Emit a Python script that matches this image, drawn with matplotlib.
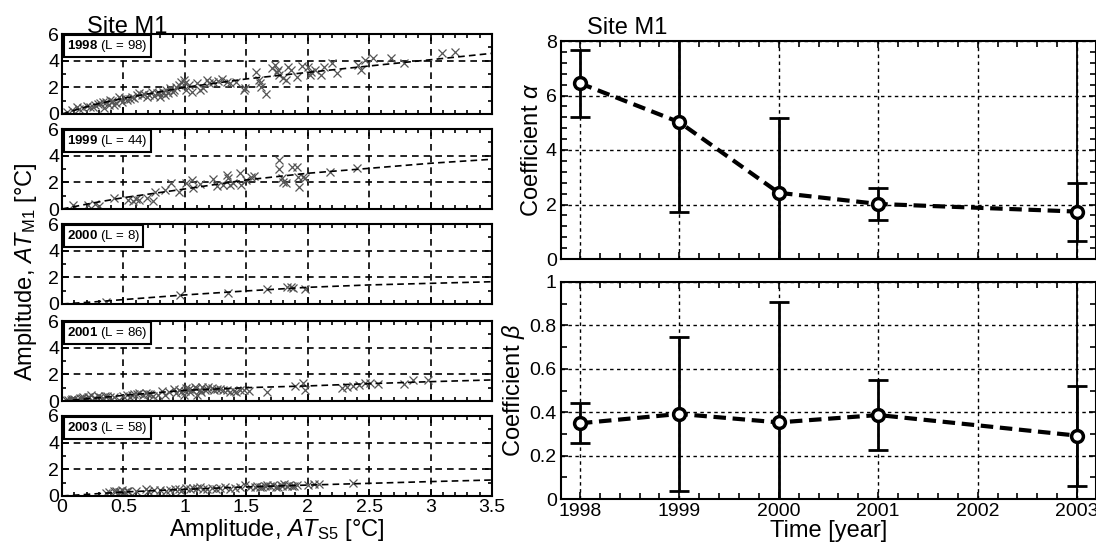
import matplotlib
matplotlib.use("Agg")
import matplotlib.pyplot as plt
import numpy as np
from matplotlib.ticker import MultipleLocator

plt.rcParams["font.family"] = ["Liberation Sans", "DejaVu Sans"]
plt.rcParams["mathtext.fontset"] = "custom"
plt.rcParams["mathtext.rm"] = "Liberation Sans"
plt.rcParams["mathtext.it"] = "Liberation Sans:italic"
plt.rcParams["mathtext.bf"] = "Liberation Sans:bold"

# ---- left: amplitude scatter per year ----
panel_years = ["1998", "1999", "2000", "2001", "2003"]
panel_counts = [98, 44, 8, 86, 58]

x1998 = [0.04, 0.12, 0.17, 0.23, 0.27, 0.31, 0.34, 0.36, 0.39, 0.42, 0.46, 0.49, 0.53, 0.57,
         0.61, 0.65, 0.69, 0.73, 0.77, 0.80, 0.82, 0.84, 0.85, 0.88, 0.91, 0.93, 0.97, 0.99,
         1.01, 1.06, 1.10, 1.12, 1.15, 1.18, 1.20, 1.23, 1.34, 1.37, 1.48, 1.49,
         1.58, 1.60, 1.61, 1.71, 1.73, 1.75, 1.76, 1.77, 1.80, 1.82, 1.84, 1.91, 2.00, 2.02,
         2.03, 2.11, 2.13, 2.20, 2.24, 2.41, 2.43, 2.47, 2.53, 2.68, 2.78, 3.09, 3.20,
         0.08, 0.14, 0.20, 0.25, 0.29, 0.33, 0.38, 0.41, 0.44, 0.48, 0.51, 0.55, 0.59, 0.63,
         0.67, 0.71, 0.75, 0.79, 0.86, 0.90, 0.95, 1.00, 1.03, 1.27, 1.30, 1.42, 1.62, 1.66,
         1.86, 1.95, 2.06]
y1998 = [0.17, 0.55, 0.43, 0.55, 0.68, 0.80, 0.43, 0.92, 1.05, 0.68, 1.30, 0.92, 1.05, 1.30,
         1.43, 1.43, 1.30, 1.67, 1.55, 1.30, 1.67, 1.43, 1.80, 1.93, 1.80, 2.05, 2.42, 2.55,
         1.80, 1.67, 2.30, 1.80, 1.93, 2.55, 2.30, 2.42, 2.42, 2.30, 1.80, 1.93,
         3.17, 2.55, 2.30, 3.43, 3.68, 3.17, 3.30, 2.93, 2.68, 2.55, 3.55, 2.80, 3.55, 2.93,
         3.17, 2.93, 3.55, 3.80, 3.05, 3.68, 3.30, 4.05, 4.18, 4.18, 3.80, 4.55, 4.68,
         0.30, 0.40, 0.60, 0.50, 0.75, 0.90, 0.70, 0.95, 0.85, 1.15, 1.20, 1.10, 1.20, 1.55,
         1.50, 1.40, 1.35, 1.60, 1.55, 1.65, 2.20, 2.35, 2.20, 2.50, 2.60, 2.40, 2.00, 1.50,
         3.30, 3.60, 3.30]

x1999 = [0.09, 0.21, 0.27, 0.30, 0.42, 0.54, 0.58, 0.63, 0.69, 0.74, 0.76, 0.84, 0.89, 0.95,
         1.01, 1.06, 1.07, 1.23, 1.26, 1.31, 1.34, 1.35, 1.37, 1.39, 1.45, 1.46, 1.50, 1.56,
         1.54, 1.77, 1.77, 1.79, 1.80, 1.82, 1.87, 1.91, 1.92, 1.93, 1.96, 1.98, 2.18, 2.40,
         0.60, 1.12]
y1999 = [0.30, 0.30, 0.38, 0.23, 0.80, 0.68, 0.63, 0.68, 0.80, 0.63, 1.30, 1.43, 1.93, 1.30,
         1.93, 2.18, 1.55, 2.23, 1.73, 1.80, 2.55, 2.30, 1.80, 1.93, 2.68, 1.80, 2.18, 2.48,
         2.43, 3.68, 2.98, 2.30, 2.05, 1.93, 3.18, 3.18, 2.43, 1.63, 2.43, 2.30, 2.80, 3.10,
         0.75, 1.90]

x2000 = [0.36, 0.96, 1.35, 1.67, 1.83, 1.86, 1.88, 1.98]
y2000 = [0.17, 0.68, 0.85, 1.10, 1.25, 1.30, 1.18, 1.10]

x2001 = [0.05, 0.08, 0.11, 0.15, 0.17, 0.19, 0.21, 0.24, 0.27, 0.31, 0.35, 0.39, 0.46, 0.53,
         0.55, 0.59, 0.63, 0.66, 0.70, 0.74, 0.78, 0.81, 0.84, 0.91, 0.93, 0.97, 0.99, 1.01,
         1.04, 1.08, 1.10, 1.12, 1.14, 1.16, 1.19, 1.22, 1.26, 1.31, 1.37, 1.42, 1.48, 1.67,
         1.90, 1.96, 1.98, 2.28, 2.32, 2.37, 2.42, 2.47, 2.51, 2.57, 2.78, 2.86, 2.98,
         0.03, 0.07, 0.10, 0.13, 0.16, 0.20, 0.22, 0.26, 0.29, 0.33, 0.37, 0.42, 0.50, 0.57,
         0.61, 0.68, 0.72, 0.87, 0.95, 1.00, 1.03, 1.06, 1.09, 1.13, 1.18, 1.24, 1.29, 1.34,
         1.40, 1.45, 1.52]
y2001 = [0.08, 0.13, 0.03, 0.20, 0.28, 0.08, 0.33, 0.45, 0.20, 0.33, 0.38, 0.28, 0.08, 0.45,
         0.33, 0.50, 0.58, 0.45, 0.53, 0.38, 0.45, 0.75, 0.45, 0.88, 0.58, 0.70, 0.45, 0.95,
         0.70, 1.08, 0.45, 0.83, 1.08, 0.83, 1.08, 0.95, 0.88, 0.83, 0.70, 0.70, 0.83, 0.70,
         1.13, 1.33, 0.83, 0.95, 1.08, 1.13, 1.20, 1.33, 1.33, 1.28, 1.28, 1.58, 1.58,
         0.10, 0.05, 0.15, 0.10, 0.25, 0.15, 0.30, 0.25, 0.35, 0.20, 0.40, 0.30, 0.40, 0.45,
         0.55, 0.60, 0.50, 0.70, 0.85, 0.75, 0.90, 0.80, 0.95, 0.70, 0.90, 0.85, 0.90, 0.80,
         0.75, 0.80, 0.75]

x2003 = [0.36, 0.42, 0.46, 0.49, 0.51, 0.54, 0.68, 0.70, 0.80, 0.85, 0.95, 0.97, 1.01, 1.10,
         1.12, 1.18, 1.29, 1.33, 1.37, 1.49, 1.57, 1.61, 1.65, 1.69, 1.72, 1.76, 1.81, 1.83,
         1.87, 1.91, 2.00, 2.09, 2.37,
         0.38, 0.44, 0.47, 0.53, 0.60, 0.75, 0.88, 0.92, 1.04, 1.07, 1.15, 1.22, 1.25, 1.41,
         1.45, 1.53, 1.59, 1.63, 1.67, 1.74, 1.78, 1.79, 1.85, 1.89, 2.05]
y2003 = [0.25, 0.40, 0.33, 0.45, 0.33, 0.40, 0.50, 0.40, 0.45, 0.40, 0.50, 0.40, 0.58, 0.58,
         0.65, 0.50, 0.58, 0.65, 0.55, 0.83, 0.65, 0.70, 0.75, 0.75, 0.83, 0.65, 0.90, 0.75,
         0.75, 0.83, 0.83, 0.90, 0.95,
         0.30, 0.35, 0.30, 0.35, 0.40, 0.45, 0.45, 0.55, 0.50, 0.60, 0.55, 0.60, 0.55, 0.60,
         0.65, 0.70, 0.75, 0.70, 0.80, 0.70, 0.80, 0.72, 0.85, 0.78, 0.88]

fit_x = [0, 0.25, 0.5, 1.0, 1.5, 2.0, 2.5, 3.0, 3.5]
fit1998 = [0, 0.68, 1.18, 2.00, 2.63, 3.12, 3.60, 4.07, 4.55]
fit1999 = [0, 0.45, 0.85, 1.50, 2.18, 2.68, 3.05, 3.43, 3.73]
fit2000 = [0, 0.15, 0.33, 0.68, 0.98, 1.25, 1.43, 1.55, 1.67]
fit2001 = [0, 0.20, 0.42, 0.80, 1.00, 1.13, 1.30, 1.45, 1.58]
fit2003 = [0, 0.15, 0.30, 0.50, 0.68, 0.82, 0.95, 1.08, 1.20]

# ---- right: regression coefficients ----
years = [1998, 1999, 2000, 2001, 2003]
alpha = [6.45, 5.02, 2.43, 2.02, 1.74]
alpha_lo = [5.20, 1.74, -0.30, 1.43, 0.67]
alpha_hi = [7.67, 9.00, 5.16, 2.59, 2.80]
beta = [0.349, 0.392, 0.353, 0.387, 0.292]
beta_lo = [0.257, 0.037, -0.10, 0.226, 0.061]
beta_hi = [0.444, 0.748, 0.906, 0.548, 0.521]

W, H = 1096, 543
fig = plt.figure(figsize=(W / 100, H / 100), dpi=100)

scatter_x = [x1998, x1999, x2000, x2001, x2003]
scatter_y = [y1998, y1999, y2000, y2001, y2003]
fits = [fit1998, fit1999, fit2000, fit2001, fit2003]
panel_px = [(34, 114), (129, 209), (224, 304), (321, 401), (416, 496)]

left_axes = []
for i, (top, bot) in enumerate(panel_px):
    ax = fig.add_axes([62 / W, 1 - bot / H, 430 / W, (bot - top) / H])
    ax.plot(fit_x, fits[i], color="k", ls="--", lw=1.2, dashes=(4, 2.5), zorder=3)
    ax.plot(scatter_x[i], scatter_y[i], ls="none", marker="x", ms=5.5, mew=0.9,
            color="#555555", zorder=2)
    ax.set_xlim(0, 3.5)
    ax.set_ylim(0, 6)
    ax.set_yticks([0, 2, 4, 6])
    ax.set_xticks(np.arange(0, 3.51, 0.5))
    ax.xaxis.set_minor_locator(MultipleLocator(0.1))
    ax.yaxis.set_minor_locator(MultipleLocator(1))
    ax.tick_params(which="both", direction="in", top=True, right=True, labelsize=14,
                   pad=2, width=1.2)
    ax.tick_params(which="major", length=5)
    ax.tick_params(which="minor", length=3)
    ax.grid(True, which="major", color="k", ls=(0, (4, 3)), lw=1.2)
    for s in ax.spines.values():
        s.set_linewidth(1.5)
    ax.text(0.012, 0.95, rf"$\mathbf{{{panel_years[i]}}}$ (L = {panel_counts[i]})",
            transform=ax.transAxes, ha="left", va="top", fontsize=9.5, zorder=5,
            bbox=dict(boxstyle="square,pad=0.25", facecolor="white", edgecolor="k", lw=1.5))
    if i < 4:
        ax.tick_params(labelbottom=False)
    else:
        ax.set_xticklabels(["0", "0.5", "1", "1.5", "2", "2.5", "3", "3.5"])
        ax.set_xlabel(r"Amplitude, $AT_{\mathrm{S5}}$ [°C]", fontsize=17, labelpad=1)
    left_axes.append(ax)

left_axes[0].text(87 / W, 1 - 33 / H, "Site M1", transform=fig.transFigure, fontsize=17,
                  ha="left", va="baseline")
fig.text(26 / W, 1 - 272 / H, r"Amplitude, $AT_{\mathrm{M1}}$ [°C]", rotation=90,
         fontsize=17, ha="center", va="center")

# right panels
ax_a = fig.add_axes([561 / W, 1 - 259 / H, (W - 561) / W, 218 / H])
ax_b = fig.add_axes([561 / W, 1 - 499 / H, (W - 561) / W, 217 / H])

for ax, val, lo, hi in [(ax_a, alpha, alpha_lo, alpha_hi), (ax_b, beta, beta_lo, beta_hi)]:
    val = np.array(val)
    ax.grid(True, which="major", color="k", ls=(0, (2.5, 2.5)), lw=1.0)
    ax.axvline(years[-1], color="k", lw=1.3, zorder=1)
    ax.errorbar(years, val, yerr=[val - np.array(lo), np.array(hi) - val], fmt="none",
                ecolor="k", elinewidth=2, capsize=7, capthick=2, zorder=3)
    ax.plot(years, val, color="k", lw=3, ls="--", dashes=(3, 1.6), marker="o", ms=8.5,
            mfc="white", mec="k", mew=2.5, zorder=4)
    ax.set_xlim(1997.81, 2003.19)
    ax.set_xticks(range(1998, 2004))
    ax.xaxis.set_minor_locator(MultipleLocator(0.2))
    ax.tick_params(which="both", direction="in", top=True, right=True, labelsize=14,
                   pad=3, width=1.2)
    ax.tick_params(which="major", length=5)
    ax.tick_params(which="minor", length=4)
    for s in ax.spines.values():
        s.set_linewidth(1.5)

ax_a.set_ylim(0, 8)
ax_a.set_yticks([0, 2, 4, 6, 8])
ax_a.yaxis.set_minor_locator(MultipleLocator(0.4))
ax_a.tick_params(labelbottom=False)
ax_a.set_ylabel(r"Coefficient $\alpha$", fontsize=17, labelpad=2)
ax_a.text(587 / W, 1 - 34 / H, "Site M1", transform=fig.transFigure, fontsize=17,
          ha="left", va="baseline")

ax_b.set_ylim(0, 1)
ax_b.set_yticks([0, 0.2, 0.4, 0.6, 0.8, 1])
ax_b.set_yticklabels(["0", "0.2", "0.4", "0.6", "0.8", "1"])
ax_b.yaxis.set_minor_locator(MultipleLocator(0.1))
ax_b.set_ylabel(r"Coefficient $\beta$", fontsize=17, labelpad=2)
ax_b.set_xlabel("Time [year]", fontsize=17, labelpad=0)

fig.savefig("out.png", dpi=100, facecolor="white")
